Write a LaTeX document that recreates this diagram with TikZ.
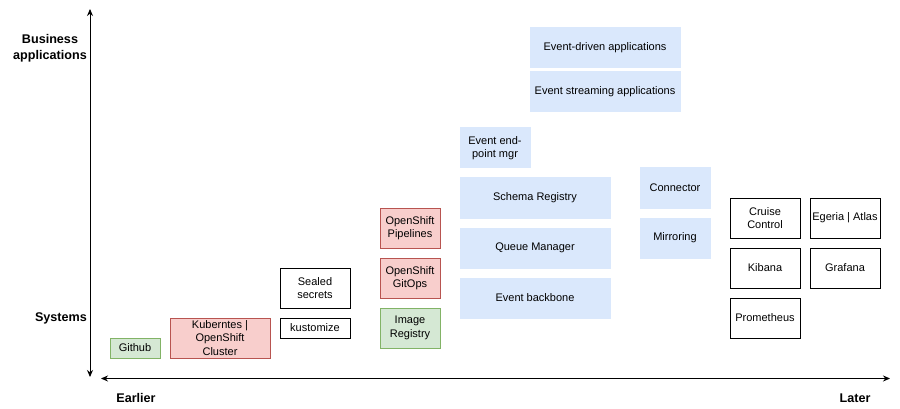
\documentclass[tikz,border=0pt]{standalone}
\usepackage{fontspec}
\setmainfont{Liberation Sans}
\usetikzlibrary{arrows.meta}
\definecolor{bluefill}{HTML}{DAE8FC}
\definecolor{redfill}{HTML}{F8CECC}
\definecolor{redline}{HTML}{B85450}
\definecolor{greenfill}{HTML}{D5E8D4}
\definecolor{greenline}{HTML}{82B366}

\begin{document}
\begin{tikzpicture}[x=1pt,y=-1pt,
        box/.style={draw, line width=1pt, align=center, inner sep=1pt,
            font=\fontsize{11}{13.5}\selectfont},
        plain/.style={box, fill=white},
        red/.style={box, fill=redfill, draw=redline},
        green/.style={box, fill=greenfill, draw=greenline},
        blue/.style={box, fill=bluefill, draw=bluefill},
        axislabel/.style={font=\fontsize{12.6}{16}\selectfont\bfseries, align=center},
        axis/.style={line width=1pt, {Stealth[length=7pt,width=6pt]}-{Stealth[length=7pt,width=6pt]}}]
        \useasboundingbox (0,0) rectangle (900,409);
        % Axes:
        \coordinate (ytop) at (90,9);
        \coordinate (ybot) at (90,377);
        \coordinate (xleft) at (101,378.5);
        \coordinate (xright) at (890,378.5);
        \draw [axis] (ytop) -- (ybot);
        \draw [axis] (xleft) -- (xright);
        \node [axislabel] (business) at (50,48) {Business\\applications};
        \node [axislabel] (systems) at (61,318) {Systems};
        \node [axislabel] (earlier) at (136,398) {Earlier};
        \node [axislabel] (later) at (855,398) {Later};

        % Platform:
        \node [green, minimum width=50, minimum height=20] (github) at (135,348) {Github};
        \node [red, minimum width=100, minimum height=40] (cluster) at (220,338) {Kuberntes |\\OpenShift\\Cluster};
        \node [plain, minimum width=70, minimum height=40] (sealed) at (315,288) {Sealed\\secrets};
        \node [plain, minimum width=70, minimum height=20] (kustomize) at (315,328) {kustomize};
        \node [red, minimum width=60, minimum height=40] (pipelines) at (410,228) {OpenShift\\Pipelines};
        \node [red, minimum width=60, minimum height=40] (gitops) at (410,278) {OpenShift\\GitOps};
        \node [green, minimum width=60, minimum height=40] (registry) at (410,328) {Image\\Registry};

        % Eventing:
        \node [blue, minimum width=70, minimum height=40] (endpoint) at (495,148) {Event end-\\point mgr};
        \node [blue, minimum width=150, minimum height=40] (schema) at (535,198) {Schema Registry};
        \node [blue, minimum width=150, minimum height=40] (queue) at (535,248) {Queue Manager};
        \node [blue, minimum width=150, minimum height=40] (backbone) at (535,298) {Event backbone};
        \node [blue, minimum width=150, minimum height=40] (driven) at (605,48) {Event-driven applications};
        \node [blue, minimum width=150, minimum height=40] (streaming) at (605,92) {Event streaming applications};
        \node [blue, minimum width=70, minimum height=40] (connector) at (675,188) {Connector};
        \node [blue, minimum width=70, minimum height=40] (mirroring) at (675,238) {Mirroring};

        % Operations:
        \node [plain, minimum width=70, minimum height=40] (cruise) at (765,218) {Cruise\\Control};
        \node [plain, minimum width=70, minimum height=40] (egeria) at (845,218) {Egeria | Atlas};
        \node [plain, minimum width=70, minimum height=40] (kibana) at (765,268) {Kibana};
        \node [plain, minimum width=70, minimum height=40] (grafana) at (845,268) {Grafana};
        \node [plain, minimum width=70, minimum height=40] (prometheus) at (765,318) {Prometheus};
\end{tikzpicture}
\end{document}
